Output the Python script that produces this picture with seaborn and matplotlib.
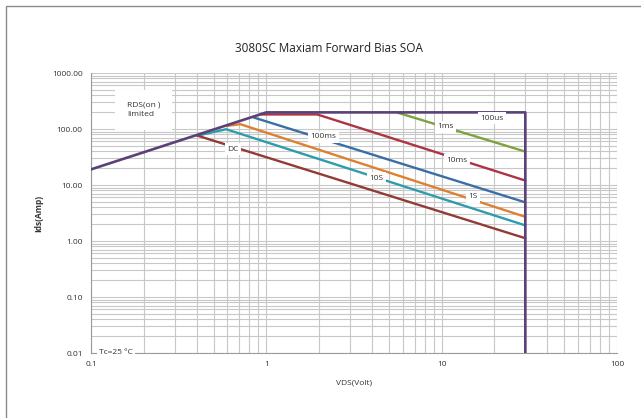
import numpy as np
import pandas as pd
import matplotlib
matplotlib.use("Agg")
import matplotlib.pyplot as plt
import matplotlib.ticker as mticker
from matplotlib.patches import Rectangle
import seaborn as sns

# SOA boundary (RDS(on) limit, current limit, voltage limit)
bound_v = [0.1, 1.0, 30, 30]
bound_i = [19.0, 198, 198, 0.01]

# pulse-width lines (V, I)
ms1_v = [5.6, 30]
ms1_i = [196, 39.5]
ms10_v = [0.93, 1.95, 30]
ms10_i = [182, 182, 12.0]
ms100_v = [0.85, 30]
ms100_i = [160, 4.9]
s1_v = [0.59, 0.71, 30]
s1_i = [113, 122, 2.7]
s10_v = [0.42, 0.59, 30]
s10_i = [78, 99, 1.9]
dc_v = [0.40, 30]
dc_i = [77, 1.12]

curves = ["1ms", "10ms", "100ms", "1S", "10S", "DC"]
colors = ["#7ea23e", "#ad3444", "#3a6ea5", "#dd8131", "#2e9dab", "#933a36"]

frames = []
for name, v, i in zip(curves,
                      [ms1_v, ms10_v, ms100_v, s1_v, s10_v, dc_v],
                      [ms1_i, ms10_i, ms100_i, s1_i, s10_i, dc_i]):
    frames.append(pd.DataFrame({"V": v, "I": i, "curve": name}))
df = pd.concat(frames, ignore_index=True)
bound = pd.DataFrame({"V": bound_v, "I": bound_i})

sns.set_theme(style="white")
plt.rcParams["font.family"] = ["Open Sans", "DejaVu Sans"]

fig = plt.figure(figsize=(6.41, 4.18), dpi=100)
ax = fig.add_axes([91 / 641, 1 - 353 / 418, 526 / 641, 280 / 418])

sns.lineplot(data=df, x="V", y="I", hue="curve", palette=dict(zip(curves, colors)),
             sort=False, estimator=None, linewidth=1.7, legend=False, ax=ax, zorder=3)
sns.lineplot(data=bound, x="V", y="I", sort=False, estimator=None,
             color="#5a4178", linewidth=1.9, ax=ax, zorder=4)

ax.set_xscale("log")
ax.set_yscale("log")
ax.set_xlim(0.1, 100)
ax.set_ylim(0.01, 1000)
ax.xaxis.set_major_locator(mticker.FixedLocator([0.1, 1, 10, 100]))
ax.xaxis.set_major_formatter(mticker.FixedFormatter(["0.1", "1", "10", "100"]))
ax.yaxis.set_major_locator(mticker.FixedLocator([0.01, 0.1, 1, 10, 100, 1000]))
ax.yaxis.set_major_formatter(mticker.FixedFormatter(["0.01", "0.10", "1.00", "10.00", "100.00", "1000.00"]))
ax.xaxis.set_minor_locator(mticker.LogLocator(base=10, subs=np.arange(2, 10)))
ax.yaxis.set_minor_locator(mticker.LogLocator(base=10, subs=np.arange(2, 10)))
ax.xaxis.set_minor_formatter(mticker.NullFormatter())
ax.yaxis.set_minor_formatter(mticker.NullFormatter())
ax.grid(True, which="both", color="#c8c8c8", linewidth=0.8)
ax.tick_params(which="both", length=0, labelsize=6, colors="#333333")
ax.tick_params(axis="x", pad=6)
ax.tick_params(axis="y", pad=6)
for s in ["top", "right"]:
    ax.spines[s].set_visible(False)
for s in ["left", "bottom"]:
    ax.spines[s].set_color("#9a9a9a")
    ax.spines[s].set_linewidth(0.8)

ax.set_xlabel("VDS(Volt)", fontsize=6, color="#333333", labelpad=8)
ax.set_ylabel("Ids(Amp)", fontsize=6, color="#333333", fontweight="bold", labelpad=6)
fig.text(329 / 641, 1 - 48 / 418, "3080SC Maxiam Forward Bias SOA",
         ha="center", va="center", fontsize=8.5, color="#222222")

box = dict(boxstyle="square,pad=0.3", facecolor="white", edgecolor="none")
labels = [("DC", 0.643, 43.4), ("100ms", 2.11, 72.9), ("10S", 4.26, 13.2),
          ("1S", 15.1, 6.18), ("10ms", 12.2, 27.9), ("1ms", 10.5, 110),
          ("100us", 19.3, 155)]
for txt, x, y in labels:
    ax.text(x, y, txt, ha="center", va="center", fontsize=6, color="#333333",
            bbox=box, zorder=6)
ax.text(0.2, 222, "RDS(on )\nlimited", ha="center", va="center", fontsize=6,
        color="#333333", multialignment="left", linespacing=1.5,
        bbox=dict(boxstyle="square,pad=1.4", facecolor="white", edgecolor="none"), zorder=6)
ax.text(0.139, 0.01, "Tc=25 °C", ha="center", va="center", fontsize=6,
        color="#333333", bbox=dict(boxstyle="square,pad=0.2", facecolor="white",
                                   edgecolor="none"), zorder=6, clip_on=False)

fig.patches.append(Rectangle((6 / 641, -0.1), 1.2, 1 - 6 / 418 + 0.1,
                             transform=fig.transFigure, fill=False,
                             edgecolor="#8a8a8a", linewidth=1.0))

fig.savefig("out.png", dpi=100)
